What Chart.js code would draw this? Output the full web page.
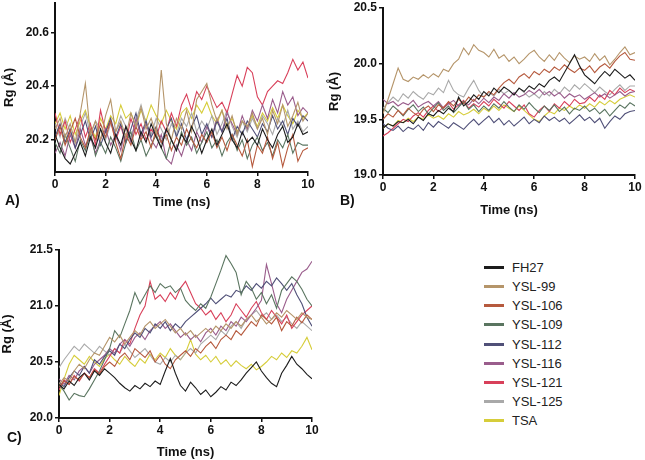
<!DOCTYPE html>
<html>
<head>
  <title>Rg vs time</title>
  <script src="https://cdn.jsdelivr.net/npm/chart.js"></script>
  <style>
    body {
      margin: 0;
      background: #ffffff;
      font-family: "Liberation Sans", Arial, sans-serif;
    }
    #wrap {
      position: relative;
      width: 645px;
      height: 460px;
      overflow: hidden;
    }
    canvas {
      position: absolute;
    }
    .tag {
      position: absolute;
      font-weight: bold;
      font-size: 14px;
      color: #111;
      line-height: 16px;
    }
    #legend {
      position: absolute;
      left: 484px;
      top: 258px;
    }
    .row {
      height: 19.15px;
      display: flex;
      align-items: center;
      font-size: 13px;
      color: #222;
    }
    .row span.ln {
      display: inline-block;
      width: 20px;
      height: 3px;
      margin-right: 8px;
    }
  </style>
</head>
<body>
<div id="wrap">
  <canvas id="chartA" width="320" height="215" style="left:0;top:0"></canvas>
  <canvas id="chartB" width="325" height="222" style="left:320px;top:0"></canvas>
  <canvas id="chartC" width="325" height="235" style="left:0;top:225px"></canvas>
  <div class="tag" style="left:5px;top:192px">A)</div>
  <div class="tag" style="left:340px;top:192px">B)</div>
  <div class="tag" style="left:7px;top:429px">C)</div>
  <div id="legend"></div>
</div>

<script>
  // series names + colours
  const seriesNames = ['FH27', 'YSL-99', 'YSL-106', 'YSL-109', 'YSL-112', 'YSL-116', 'YSL-121', 'YSL-125', 'TSA'];
  const seriesColors = ['#1c1c1c', '#b5956a', '#b65a3e', '#5a7560', '#505078', '#9a5d8c', '#d8405a', '#a9a9a9', '#d6cd3a'];

  // time axis (ns)
  const time = [0, 0.2, 0.4, 0.6, 0.8, 1, 1.2, 1.4, 1.6, 1.8,
    2, 2.2, 2.4, 2.6, 2.8, 3, 3.2, 3.4, 3.6, 3.8,
    4, 4.2, 4.4, 4.6, 4.8, 5, 5.2, 5.4, 5.6, 5.8,
    6, 6.2, 6.4, 6.6, 6.8, 7, 7.2, 7.4, 7.6, 7.8,
    8, 8.2, 8.4, 8.6, 8.8, 9, 9.2, 9.4, 9.6, 9.8, 10];

  const xTicks = [0, 2, 4, 6, 8, 10];
  const yTicksA = [20.2, 20.4, 20.6];
  const yTicksB = [19.0, 19.5, 20.0, 20.5];
  const yTicksC = [20.0, 20.5, 21.0, 21.5];

  // ---- panel A ----
  const rgA_FH27 = [20.22,20.17,20.13,20.11,20.15,20.19,20.14,20.21,20.17,20.24,
    20.19,20.15,20.22,20.18,20.25,20.20,20.16,20.23,20.19,20.26,
    20.21,20.17,20.24,20.20,20.16,20.22,20.19,20.25,20.21,20.15,
    20.20,20.24,20.18,20.22,20.26,20.20,20.17,20.23,20.19,20.21,
    20.18,20.24,20.20,20.17,20.22,20.25,20.19,20.21,20.26,20.22, 20.23];
  const rgA_YSL99 = [20.24,20.28,20.21,20.26,20.19,20.30,20.41,20.22,20.27,20.20,
    20.29,20.35,20.23,20.27,20.21,20.30,20.25,20.32,20.24,20.28,
    20.22,20.46,20.26,20.20,20.28,20.24,20.31,20.23,20.35,20.38,
    20.41,20.33,20.27,20.31,20.24,20.29,20.22,20.27,20.25,20.30,
    20.24,20.28,20.22,20.31,20.26,20.33,20.25,20.29,20.34,20.27, 20.30];
  const rgA_YSL106 = [20.20,20.25,20.18,20.23,20.28,20.21,20.17,20.24,20.20,20.26,
    20.21,20.27,20.19,20.13,20.22,20.18,20.25,20.20,20.23,20.17,
    20.24,20.19,20.22,20.16,20.21,20.18,20.24,20.20,20.17,20.22,
    20.19,20.23,20.17,20.21,20.16,20.22,20.18,20.14,20.20,20.10,
    20.18,20.15,20.21,20.13,20.19,20.10,20.17,20.22,20.12,20.16, 20.17];
  const rgA_YSL109 = [20.19,20.15,20.22,20.17,20.12,20.20,20.16,20.23,20.14,20.19,
    20.15,20.21,20.17,20.12,20.19,20.23,20.16,20.20,20.14,20.18,
    20.22,20.17,20.13,20.20,20.16,20.23,20.18,20.21,20.15,20.19,
    20.23,20.17,20.20,20.14,20.19,20.22,20.16,20.20,20.13,20.18,
    20.21,20.16,20.19,20.14,20.20,20.17,20.22,20.15,20.19,20.18, 20.18];
  const rgA_YSL112 = [20.21,20.26,20.19,20.24,20.17,20.22,20.27,20.20,20.25,20.18,
    20.23,20.28,20.21,20.26,20.19,20.24,20.30,20.22,20.27,20.21,
    20.25,20.19,20.24,20.28,20.21,20.26,20.20,20.25,20.29,20.22,
    20.26,20.21,20.27,20.23,20.28,20.20,20.25,20.22,20.27,20.24,
    20.21,20.26,20.23,20.29,20.24,20.27,20.22,20.28,20.25,20.29, 20.27];
  const rgA_YSL116 = [20.15,20.19,20.14,20.22,20.17,20.24,20.18,20.21,20.15,20.20,
    20.24,20.18,20.22,20.16,20.25,20.19,20.28,20.21,20.26,20.20,
    20.17,20.22,20.13,20.11,20.18,20.14,20.20,20.16,20.23,20.19,
    20.25,20.21,20.28,20.23,20.30,20.26,20.22,20.29,20.24,20.31,
    20.27,20.33,20.28,20.35,20.30,20.38,20.33,20.36,20.29,20.32, 20.30];
  const rgA_YSL121 = [20.30,20.22,20.27,20.19,20.24,20.29,20.21,20.26,20.18,20.31,
    20.23,20.27,20.20,20.25,20.19,20.28,20.22,20.26,20.20,20.24,
    20.21,20.27,20.23,20.30,20.25,20.33,20.37,20.31,20.38,20.35,
    20.40,20.36,20.32,20.34,20.30,20.37,20.44,20.40,20.47,20.45,
    20.36,20.33,20.38,20.40,20.42,20.41,20.45,20.50,20.46,20.49, 20.43];
  const rgA_YSL125 = [20.26,20.21,20.28,20.23,20.19,20.25,20.30,20.22,20.27,20.24,
    20.20,20.26,20.23,20.29,20.25,20.21,20.27,20.33,20.26,20.22,
    20.28,20.24,20.20,20.26,20.22,20.28,20.25,20.30,20.23,20.27,
    20.24,20.29,20.22,20.26,20.31,20.25,20.21,20.27,20.23,20.28,
    20.24,20.29,20.26,20.22,20.28,20.25,20.31,20.24,20.27,20.23, 20.25];
  const rgA_TSA = [20.26,20.30,20.24,20.29,20.22,20.27,20.31,20.25,20.21,20.28,
    20.24,20.29,20.26,20.33,20.28,20.30,20.25,20.31,20.27,20.33,
    20.29,20.26,20.31,20.27,20.24,20.30,20.32,20.28,20.33,20.30,
    20.34,20.29,20.26,20.31,20.25,20.28,20.23,20.27,20.24,20.29,
    20.25,20.30,20.27,20.32,20.28,20.33,20.29,20.26,20.31,20.28, 20.30];

  // ---- panel B ----
  const rgB_FH27 = [19.42,19.46,19.44,19.48,19.47,19.50,19.46,19.52,19.49,19.55,
    19.53,19.58,19.55,19.60,19.57,19.70,19.62,19.66,19.72,19.68,
    19.75,19.71,19.78,19.74,19.79,19.76,19.72,19.78,19.75,19.80,
    19.77,19.82,19.79,19.85,19.88,19.84,19.92,20.00,20.08,19.98,
    19.90,19.86,19.82,19.88,19.93,19.89,19.95,19.91,19.87,19.90, 19.85];
  const rgB_YSL99 = [19.55,19.68,19.82,19.96,19.86,19.84,19.88,19.86,19.90,19.87,
    19.91,19.88,19.95,19.93,20.00,20.04,20.14,20.08,20.17,20.12,
    20.10,20.06,20.13,20.05,20.08,20.02,20.06,20.00,20.04,20.09,
    20.12,20.06,20.02,20.08,20.03,20.10,20.05,20.01,20.07,20.04,
    20.06,20.02,20.09,20.03,20.07,19.99,20.04,20.10,20.15,20.08, 20.10];
  const rgB_YSL106 = [19.50,19.55,19.52,19.58,19.54,19.60,19.56,19.53,19.59,19.62,
    19.57,19.63,19.60,19.66,19.62,19.68,19.64,19.70,19.66,19.72,
    19.70,19.75,19.72,19.78,19.83,19.86,19.82,19.88,19.91,19.87,
    19.93,19.90,19.95,19.92,19.97,19.94,19.99,19.95,19.92,19.96,
    19.94,19.98,19.92,19.97,20.00,19.96,20.02,20.07,20.10,20.04, 20.03];
  const rgB_YSL109 = [19.60,19.56,19.62,19.58,19.53,19.59,19.63,19.57,19.61,19.55,
    19.60,19.65,19.58,19.62,19.56,19.61,19.66,19.59,19.63,19.57,
    19.62,19.58,19.64,19.60,19.66,19.61,19.57,19.63,19.59,19.65,
    19.60,19.56,19.62,19.58,19.63,19.57,19.61,19.55,19.60,19.58,
    19.62,19.57,19.60,19.55,19.59,19.53,19.58,19.63,19.60,19.65, 19.62];
  const rgB_YSL112 = [19.46,19.42,19.40,19.44,19.39,19.43,19.41,19.45,19.40,19.47,
    19.43,19.48,19.45,19.42,19.47,19.44,19.41,19.46,19.50,19.45,
    19.49,19.53,19.47,19.51,19.45,19.49,19.44,19.48,19.52,19.46,
    19.50,19.47,19.53,19.49,19.52,19.48,19.51,19.46,19.50,19.54,
    19.49,19.52,19.47,19.51,19.42,19.48,19.53,19.50,19.55,19.57, 19.58];
  const rgB_YSL116 = [19.68,19.64,19.66,19.62,19.65,19.63,19.67,19.61,19.64,19.66,
    19.62,19.66,19.60,19.64,19.67,19.62,19.66,19.63,19.68,19.64,
    19.69,19.65,19.70,19.67,19.73,19.69,19.74,19.70,19.72,19.76,
    19.73,19.77,19.72,19.75,19.71,19.74,19.69,19.73,19.70,19.72,
    19.68,19.71,19.74,19.70,19.73,19.69,19.72,19.75,19.71,19.74, 19.75];
  const rgB_YSL121 = [19.35,19.38,19.42,19.46,19.50,19.48,19.53,19.56,19.52,19.58,
    19.62,19.57,19.61,19.65,19.59,19.63,19.67,19.60,19.64,19.61,
    19.66,19.62,19.68,19.64,19.60,19.66,19.62,19.58,19.63,19.55,
    19.52,19.58,19.62,19.57,19.64,19.60,19.66,19.62,19.68,19.64,
    19.65,19.70,19.66,19.72,19.68,19.76,19.72,19.78,19.74,19.77, 19.75];
  const rgB_YSL125 = [19.60,19.65,19.70,19.66,19.73,19.69,19.75,19.71,19.68,19.74,
    19.72,19.78,19.74,19.85,19.76,19.72,19.70,19.78,19.85,19.76,
    19.70,19.74,19.71,19.77,19.73,19.76,19.72,19.78,19.74,19.70,
    19.73,19.69,19.75,19.71,19.77,19.73,19.79,19.75,19.81,19.77,
    19.82,19.78,19.74,19.79,19.75,19.72,19.77,19.81,19.76,19.80, 19.80];
  const rgB_TSA = [19.42,19.46,19.44,19.49,19.47,19.51,19.48,19.52,19.50,19.54,
    19.51,19.53,19.50,19.55,19.52,19.57,19.54,19.56,19.59,19.55,
    19.60,19.57,19.62,19.58,19.63,19.60,19.57,19.62,19.58,19.54,
    19.50,19.48,19.53,19.57,19.55,19.60,19.58,19.62,19.59,19.63,
    19.60,19.64,19.61,19.66,19.63,19.67,19.64,19.68,19.70,19.72, 19.70];

  // ---- panel C ----
  const rgC_FH27 = [20.30,20.26,20.33,20.29,20.36,20.40,20.34,20.42,20.38,20.44,
    20.40,20.36,20.31,20.27,20.24,20.29,20.26,20.31,20.28,20.33,
    20.30,20.42,20.53,20.40,20.29,20.24,20.32,20.27,20.21,20.25,
    20.19,20.23,20.28,20.25,20.32,20.29,20.34,20.40,20.45,20.50,
    20.42,20.36,20.31,20.28,20.40,20.47,20.55,20.48,20.44,20.39, 20.35];
  const rgC_YSL99 = [20.30,20.36,20.33,20.42,20.48,20.44,20.52,20.58,20.56,20.64,
    20.72,20.68,20.74,20.66,20.72,20.78,20.74,20.82,20.86,20.80,
    20.84,20.88,20.82,20.76,20.80,20.74,20.78,20.72,20.76,20.80,
    20.76,20.82,20.78,20.84,20.80,20.86,20.82,20.88,20.92,20.86,
    20.90,20.84,20.88,20.94,20.90,20.96,20.92,20.88,20.94,20.90, 20.88];
  const rgC_YSL106 = [20.28,20.33,20.30,20.37,20.34,20.40,20.36,20.43,20.39,20.46,
    20.50,20.46,20.54,20.58,20.52,20.62,20.58,20.54,20.60,20.50,
    20.56,20.48,20.44,20.52,20.56,20.60,20.55,20.62,20.58,20.64,
    20.68,20.62,20.70,20.74,20.70,20.78,20.74,20.80,20.86,20.82,
    20.92,20.88,20.84,20.90,20.78,20.86,20.82,20.90,20.85,20.92, 20.88];
  const rgC_YSL109 = [20.30,20.24,20.16,20.22,20.20,20.19,20.26,20.34,20.42,20.52,
    20.62,20.78,20.72,20.84,20.96,21.12,21.02,21.10,21.18,21.12,
    21.20,21.16,21.18,21.12,21.16,21.05,21.00,20.96,21.02,20.98,
    21.08,21.20,21.32,21.45,21.38,21.30,21.10,21.22,21.16,21.06,
    21.12,21.02,21.10,20.98,21.14,21.20,21.26,21.22,21.15,21.06, 21.00];
  const rgC_YSL112 = [20.32,20.28,20.36,20.42,20.38,20.46,20.40,20.52,20.48,20.55,
    20.60,20.56,20.66,20.62,20.70,20.76,20.72,20.80,20.76,20.84,
    20.80,20.86,20.78,20.84,20.80,20.86,20.90,20.94,20.98,21.02,
    21.07,21.02,21.06,21.10,21.08,21.14,21.12,21.18,21.14,21.20,
    21.16,21.22,21.18,21.25,21.20,21.14,21.20,21.10,21.02,20.90, 20.82];
  const rgC_YSL116 = [20.35,20.30,20.38,20.34,20.42,20.46,20.40,20.48,20.52,20.56,
    20.62,20.58,20.66,20.70,20.64,20.72,20.76,20.70,20.78,20.82,
    20.86,20.80,20.84,20.78,20.72,20.76,20.70,20.74,20.68,20.76,
    20.80,20.74,20.82,20.78,20.86,20.82,20.90,20.86,20.92,20.98,
    21.05,21.37,21.20,21.02,20.94,21.06,21.14,21.22,21.30,21.33, 21.40];
  const rgC_YSL121 = [20.25,20.34,20.30,20.38,20.33,20.40,20.36,20.44,20.40,20.48,
    20.55,20.62,20.58,20.70,20.66,20.80,20.92,21.00,21.22,21.06,
    21.10,21.04,21.12,21.06,21.16,21.22,21.12,21.02,20.98,20.92,
    20.96,20.88,20.94,20.86,20.92,21.02,20.96,20.90,20.98,21.04,
    20.94,20.88,20.96,20.90,20.84,20.92,20.80,20.86,20.92,20.96, 21.00];
  const rgC_YSL125 = [20.45,20.52,20.58,20.64,20.60,20.66,20.62,20.58,20.64,20.60,
    20.56,20.62,20.58,20.66,20.60,20.54,20.58,20.62,20.56,20.50,
    20.48,20.54,20.50,20.56,20.52,20.58,20.62,20.58,20.66,20.70,
    20.74,20.70,20.78,20.74,20.82,20.86,20.80,20.88,20.92,20.96,
    20.90,20.94,20.88,20.92,20.86,20.90,20.84,20.80,20.86,20.82, 20.78];
  const rgC_TSA = [20.20,20.35,20.48,20.56,20.52,20.48,20.55,20.50,20.46,20.53,
    20.57,20.52,20.48,20.55,20.50,20.46,20.53,20.49,20.57,20.52,
    20.58,20.54,20.62,20.56,20.52,20.58,20.70,20.57,20.52,20.56,
    20.50,20.55,20.48,20.52,20.46,20.51,20.47,20.44,20.48,20.43,
    20.46,20.50,20.55,20.52,20.58,20.54,20.60,20.58,20.64,20.72, 20.61];

  const panelA = [rgA_FH27, rgA_YSL99, rgA_YSL106, rgA_YSL109, rgA_YSL112, rgA_YSL116, rgA_YSL121, rgA_YSL125, rgA_TSA];
  const panelB = [rgB_FH27, rgB_YSL99, rgB_YSL106, rgB_YSL109, rgB_YSL112, rgB_YSL116, rgB_YSL121, rgB_YSL125, rgB_TSA];
  const panelC = [rgC_FH27, rgC_YSL99, rgC_YSL106, rgC_YSL109, rgC_YSL112, rgC_YSL116, rgC_YSL121, rgC_YSL125, rgC_TSA];

  // quick sanity check on lengths
  [panelA, panelB, panelC].forEach((p, pi) => p.forEach((s, si) => {
    if (s.length !== time.length) throw new Error('panel ' + pi + ' series ' + si + ' has ' + s.length);
  }));

  Chart.defaults.font.family = '"Liberation Sans", Arial, sans-serif';
  Chart.defaults.color = '#111';

  function makePanel(id, series, yMin, yMax, yTicks, box) {
    const datasets = series.map((vals, i) => ({
      label: seriesNames[i],
      data: time.map((t, k) => ({ x: t, y: vals[k] })),
      borderColor: seriesColors[i],
      borderWidth: 1.1,
      pointRadius: 0,
      tension: 0,
      fill: false
    }));

    return new Chart(document.getElementById(id), {
      type: 'line',
      data: { datasets: datasets },
      options: {
        responsive: false,
        animation: false,
        layout: { padding: { top: box.top, right: box.right, left: 0, bottom: 0 } },
        plugins: { legend: { display: false }, tooltip: { enabled: false } },
        scales: {
          x: {
            type: 'linear',
            min: 0,
            max: 10,
            afterBuildTicks: (s) => { s.ticks = xTicks.map(v => ({ value: v })); },
            afterFit: (s) => { s.height = box.xh; s.paddingLeft = 0; s.paddingRight = 0; },
            ticks: {
              padding: 1,
              font: { size: 12, weight: 'bold' },
              color: '#111',
              maxRotation: 0
            },
            grid: { drawOnChartArea: false, drawTicks: true, tickLength: 4, color: '#111', lineWidth: 1.5 },
            border: { display: true, color: '#111', width: 2 },
            title: {
              display: true,
              text: 'Time (ns)',
              font: { size: 13, weight: 'bold' },
              color: '#111',
              padding: { top: 0, bottom: box.xtp }
            }
          },
          y: {
            type: 'linear',
            min: yMin,
            max: yMax,
            afterBuildTicks: (s) => { s.ticks = yTicks.map(v => ({ value: v })); },
            afterFit: (s) => { s.width = box.yw; s.paddingTop = 0; s.paddingBottom = 0; },
            ticks: {
              padding: 2,
              font: { size: 12, weight: 'bold' },
              color: '#111',
              callback: (v) => Number(v).toFixed(1)
            },
            grid: { drawOnChartArea: false, drawTicks: true, tickLength: 4, color: '#111', lineWidth: 1.5 },
            border: { display: true, color: '#111', width: 2 },
            title: {
              display: true,
              text: 'Rg (Å)',
              font: { size: 13, weight: 'bold' },
              color: '#111',
              padding: { top: box.ytp, bottom: 0 }
            }
          }
        }
      }
    });
  }

  makePanel('chartA', panelA, 20.08, 20.71, yTicksA, { top: 3, right: 12, yw: 55, xh: 43, xtp: 5, ytp: 2 });
  makePanel('chartB', panelB, 19.0, 20.5, yTicksB, { top: 8, right: 10, yw: 63, xh: 47, xtp: 4, ytp: 7 });
  makePanel('chartC', panelC, 20.0, 21.5, yTicksC, { top: 25, right: 13, yw: 59, xh: 42, xtp: 0, ytp: 0 });

  // legend built from the same name/colour arrays
  const legend = document.getElementById('legend');
  seriesNames.forEach((name, i) => {
    const row = document.createElement('div');
    row.className = 'row';
    const ln = document.createElement('span');
    ln.className = 'ln';
    ln.style.background = seriesColors[i];
    row.appendChild(ln);
    row.appendChild(document.createTextNode(name));
    legend.appendChild(row);
  });
</script>
</body>
</html>
